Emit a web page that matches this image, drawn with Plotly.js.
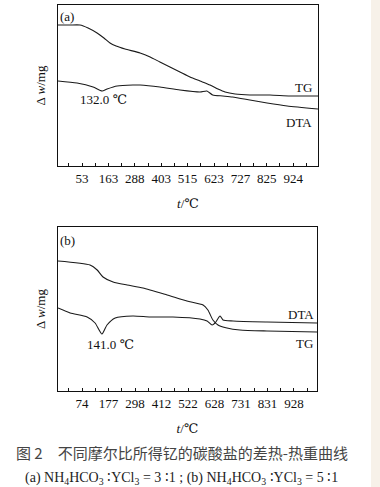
<!DOCTYPE html>
<html>
<head>
<meta charset="utf-8">
<script src="https://cdn.plot.ly/plotly-3.0.1.min.js"></script>
<style>html,body{margin:0;padding:0;background:#fff;}#chart{width:380px;height:487px;}</style>
</head>
<body>
<div id="chart"></div>
<script>
// Tick labels (temperature, °C) placed at evenly spaced recording positions 1..9
const tickPosA = [1, 2, 3, 4, 5, 6, 7, 8, 9];
const tickTextA = ["53", "163", "288", "403", "515", "623", "727", "825", "924"];
const tickPosB = [1, 2, 3, 4, 5, 6, 7, 8, 9];
const tickTextB = ["74", "177", "298", "412", "522", "628", "731", "831", "928"];

// Panel (a): NH4HCO3 : YCl3 = 3 : 1  (x in tick-position units, y in arbitrary Δw units)
const tgA_x = [0.09,0.55,0.92,1.23,1.57,1.83,2.06,2.29,2.63,3.20,3.58,3.95,4.33,4.71,5.09,5.47,5.85,6.15,6.42,6.80,7.36,8.12,8.88,9.94];
const tgA_y = [141,141,141,138,133,128,123,120,117,113,109,104,99,94,89,85,81,77,74,72,71,71,70,70];
const dtaA_x = [0.09,0.81,1.42,1.76,1.95,2.33,2.93,3.20,3.95,4.71,5.47,5.73,5.95,6.33,6.70,7.36,8.01,8.77,9.94];
const dtaA_y = [85,83,79,75,77,80,81,81,79,76,74,75,71,70,69,66,63,60,57];

// Panel (b): NH4HCO3 : YCl3 = 5 : 1
const tgB_x = [0.09,1.30,1.57,1.79,2.17,2.70,3.30,4.21,4.96,5.57,5.75,5.94,6.13,6.47,6.96,7.98,9.87];
const tgB_y = [130,126,121,114,109,106,103,96,90,86,81,71,66,63,61,60,59];
const dtaB_x = [0.09,0.55,1.19,1.49,1.75,1.94,2.25,2.92,3.57,4.43,5.45,5.72,5.91,6.02,6.21,6.32,6.70,7.98,9.87];
const dtaB_y = [83,78,74,68,57,66,73,75,74,74,72,70,66,68,75,71,70,69,68];

const W = 380, H = 487;
const px = v => v / W;
const py = v => 1 - v / H;
const serif = "Liberation Serif, DejaVu Serif, serif";
const cjk = "Noto Sans CJK SC, sans-serif";
const lineStyle = {color: "#1a1a1a", width: 1.1, shape: "spline", smoothing: 0.6};

const traces = [
  {x: tgA_x, y: tgA_y, mode: "lines", line: lineStyle, name: "TG", xaxis: "x", yaxis: "y", hoverinfo: "skip"},
  {x: dtaA_x, y: dtaA_y, mode: "lines", line: lineStyle, name: "DTA", xaxis: "x", yaxis: "y", hoverinfo: "skip"},
  {x: tgB_x, y: tgB_y, mode: "lines", line: lineStyle, name: "TG", xaxis: "x2", yaxis: "y2", hoverinfo: "skip"},
  {x: dtaB_x, y: dtaB_y, mode: "lines", line: lineStyle, name: "DTA", xaxis: "x2", yaxis: "y2", hoverinfo: "skip"}
];

function xAxis(domain, range, vals, text, anchor) {
  const minor = [];
  for (let i = 0; i < vals.length + 1; i++) minor.push(vals[0] - 0.5 + i);
  return {
    domain: domain, range: range, anchor: anchor,
    tickmode: "array", tickvals: vals, ticktext: text,
    ticks: "inside", ticklen: 3, tickwidth: 1, tickcolor: "#111",
    minor: {tickmode: "array", tickvals: minor, ticks: "inside", ticklen: 3, tickwidth: 1, tickcolor: "#111"},
    showline: true, linecolor: "#111", linewidth: 1.4, mirror: true,
    showgrid: false, zeroline: false,
    tickfont: {family: serif, size: 13, color: "#111"},
    title: {text: "<i>t</i>/℃", font: {family: serif, size: 13, color: "#111"}, standoff: 14}
  };
}
function yAxis(domain, range, anchor) {
  return {
    domain: domain, range: range, anchor: anchor,
    showticklabels: false, ticks: "", showgrid: false, zeroline: false,
    showline: true, linecolor: "#111", linewidth: 1.4, mirror: true,
    title: {text: "Δ <i>w</i>/mg", font: {family: serif, size: 13, color: "#111"}, standoff: 8}
  };
}

const ann = (x, y, text, size, opts) => Object.assign({
  xref: "paper", yref: "paper", x: px(x), y: py(y), text: text, showarrow: false,
  xanchor: "center", yanchor: "middle", font: {family: serif, size: size, color: "#111"}
}, opts || {});

const layout = {
  width: W, height: H,
  margin: {l: 0, r: 0, t: 0, b: 0},
  paper_bgcolor: "#ffffff", plot_bgcolor: "#ffffff",
  showlegend: false,
  xaxis: xAxis([px(58), px(318)], [0.09, 9.94], tickPosA, tickTextA, "y"),
  yaxis: yAxis([py(166), py(5)], [0, 161], "x"),
  xaxis2: xAxis([px(58), px(317)], [0.09, 9.87], tickPosB, tickTextB, "y2"),
  yaxis2: yAxis([py(391), py(227)], [0, 164], "x2"),
  shapes: [
    {type: "rect", xref: "paper", yref: "paper", x0: px(371), x1: 1, y0: 0, y1: 1,
     fillcolor: "#f7f1e9", line: {width: 0}, layer: "below"}
  ],
  annotations: [
    ann(67, 16, "(a)", 13),
    ann(103, 100, "132.0 ℃", 13),
    ann(303, 87, "TG", 13),
    ann(299, 122, "DTA", 13),
    ann(67, 241, "(b)", 13),
    ann(110, 344, "141.0 ℃", 13),
    ann(301, 314, "DTA", 13),
    ann(304, 343, "TG", 13),
    ann(182, 452, "图 2　不同摩尔比所得钇的碳酸盐的差热-热重曲线", 15, {font: {family: cjk, size: 15, color: "#444"}}),
    ann(181, 478, "(a) NH<sub>4</sub>HCO<sub>3</sub> ∶YCl<sub>3</sub> = 3 ∶1 ; (b) NH<sub>4</sub>HCO<sub>3</sub> ∶YCl<sub>3</sub> = 5 ∶1", 14, {font: {family: serif, size: 14, color: "#222"}})
  ]
};

Plotly.newPlot("chart", traces, layout, {staticPlot: true, displayModeBar: false});
</script>
</body>
</html>
